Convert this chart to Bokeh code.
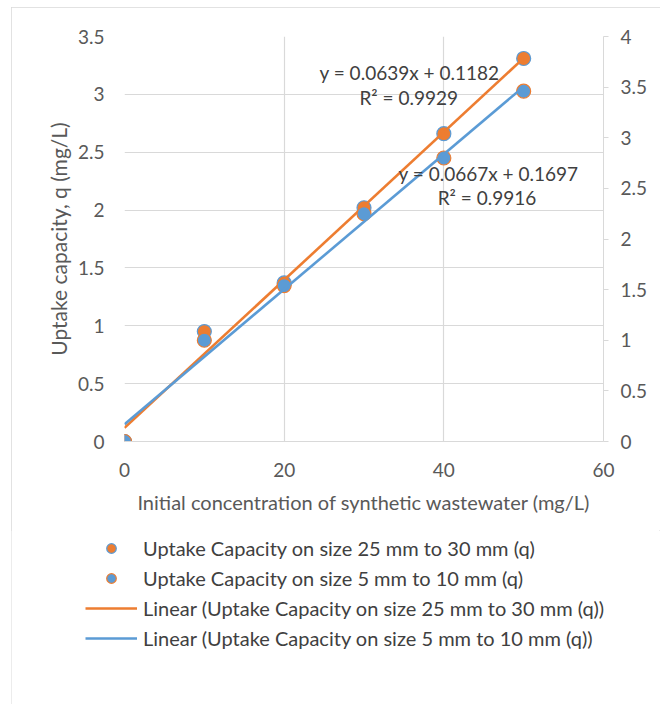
from bokeh.plotting import figure
from bokeh.models import (Range1d, LinearAxis, FixedTicker, Legend, LegendItem, Label)
from bokeh.layouts import column
from bokeh.embed import file_html
from bokeh.resources import INLINE

# ---- data ----
conc = [0, 10, 20, 30, 40, 50]
q_25_30 = [0.0, 0.95, 1.37, 2.02, 2.66, 3.31]      # primary axis
q_5_10 = [0.0, 1.00, 1.54, 2.25, 2.80, 3.46]        # secondary axis
fit_25_30 = (0.0639, 0.1182, 0.9929)
fit_5_10 = (0.0667, 0.1697, 0.9916)
fit_x = [0, 50]
x_ticks = [0, 20, 40, 60]
left_ticks = [0, 0.5, 1, 1.5, 2, 2.5, 3, 3.5]
right_ticks = [0, 0.5, 1, 1.5, 2, 2.5, 3, 3.5, 4]
names = ["Uptake Capacity on size 25 mm to 30 mm (q)",
         "Uptake Capacity on size 5 mm to 10 mm (q)"]

ORANGE = "#ED7D31"
BLUE = "#5B9BD5"
GRID = "#D9D9D9"
TXT = "#595959"
FONT = "Lato"

p = figure(width=649, height=523, output_backend="svg", toolbar_location=None,
           x_range=Range1d(0, 60), y_range=Range1d(0, 3.5),
           min_border_left=113, min_border_right=57, min_border_top=29,
           min_border_bottom=89)
p.extra_y_ranges = {"right": Range1d(0, 4)}
p.outline_line_color = None
p.background_fill_color = "white"
p.border_fill_color = "white"

# axes
xa = p.xaxis[0]
xa.ticker = FixedTicker(ticks=x_ticks)
xa.axis_line_color = GRID
xa.major_tick_line_color = None
xa.minor_tick_line_color = None
xa.major_label_standoff = 15
xa.axis_label = "Initial concentration of synthetic wastewater (mg/L)"
xa.axis_label_standoff = 10
ya = p.yaxis[0]
ya.ticker = FixedTicker(ticks=left_ticks)
ya.axis_line_color = None
ya.major_tick_line_color = None
ya.minor_tick_line_color = None
ya.major_label_standoff = 14
ya.axis_label = "Uptake capacity, q (mg/L)"
ya.axis_label_standoff = 4

ra = LinearAxis(y_range_name="right", ticker=FixedTicker(ticks=right_ticks))
ra.axis_line_color = GRID
ra.major_tick_line_color = GRID
ra.major_tick_out = 5
ra.major_tick_in = 0
ra.minor_tick_line_color = None
ra.major_label_standoff = 12
p.add_layout(ra, "right")

for ax in (xa, ya, ra):
    ax.major_label_text_font = FONT
    ax.major_label_text_font_size = "19px"
    ax.major_label_text_color = TXT
    ax.axis_label_text_font = FONT
    ax.axis_label_text_font_style = "normal"
    ax.axis_label_text_color = TXT
xa.axis_label_text_font_size = "20px"
ya.axis_label_text_font_size = "21px"

p.xgrid.ticker = FixedTicker(ticks=x_ticks)
p.ygrid.ticker = FixedTicker(ticks=left_ticks)
p.grid.grid_line_color = GRID
p.grid.grid_line_width = 1.2

# trendlines
oy = [fit_25_30[0] * v + fit_25_30[1] for v in fit_x]
by = [fit_5_10[0] * v + fit_5_10[1] for v in fit_x]

s1_style = dict(size=14, fill_color=ORANGE, line_color=BLUE, line_width=1.2)
s2_style = dict(size=14, fill_color=BLUE, line_color=ORANGE, line_width=1.2)
l1_style = dict(line_color=ORANGE, line_width=2.6)
l2_style = dict(line_color=BLUE, line_width=2.6)

p.scatter(conc, q_25_30, **s1_style)
p.line(fit_x, oy, **l1_style)
p.scatter(conc, q_5_10, y_range_name="right", **s2_style)
p.line(fit_x, by, y_range_name="right", **l2_style)

# equation labels
def eq(f):
    return "y = %.4fx + %.4f" % (f[0], f[1]), "R² = %.4f" % f[2]

e1a, e1b = eq(fit_25_30)
e2a, e2b = eq(fit_5_10)
for txt, x, y in [(e1a, 35.7, 3.19), (e1b, 35.6, 2.97), (e2a, 45.6, 2.32), (e2b, 45.4, 2.11)]:
    p.add_layout(Label(x=x, y=y, text=txt, text_align="center", text_baseline="middle",
                       text_font=FONT, text_font_size="19px", text_color="#404040"))

# legend panel: same series, drawn outside its visible range so only keys show
lg = figure(width=649, height=174, output_backend="svg", toolbar_location=None,
            x_range=Range1d(1000, 1001), y_range=Range1d(1000, 1001),
            min_border=0, min_border_left=0, min_border_right=0,
            min_border_top=0, min_border_bottom=0)
lg.frame_align = False
lg.axis.visible = False
lg.grid.visible = False
lg.outline_line_color = None
lg.background_fill_color = "white"
lg.border_fill_color = "white"
k1 = lg.scatter(conc, q_25_30, **s1_style)
k2 = lg.scatter(conc, q_5_10, **s2_style)
k3 = lg.line(fit_x, oy, **l1_style)
k4 = lg.line(fit_x, by, **l2_style)
legend = Legend(items=[LegendItem(label=names[0], renderers=[k1]),
                       LegendItem(label=names[1], renderers=[k2]),
                       LegendItem(label="Linear (" + names[0] + ")", renderers=[k3]),
                       LegendItem(label="Linear (" + names[1] + ")", renderers=[k4])],
                location=(74, 54), orientation="vertical",
                glyph_width=52, glyph_height=24, label_height=24, spacing=6,
                label_standoff=6, padding=0, margin=0,
                border_line_color=None, background_fill_alpha=0,
                label_text_font=FONT, label_text_font_size="20px", label_text_color="#404040")
lg.add_layout(legend, "center")

layout = column(p, lg, spacing=0)
layout.styles = {"margin-left": "11px", "margin-top": "7px",
                 "outline": "1px solid #d9d9d9", "outline-offset": "-1px"}

open("out.html", "w").write(file_html(layout, INLINE))
